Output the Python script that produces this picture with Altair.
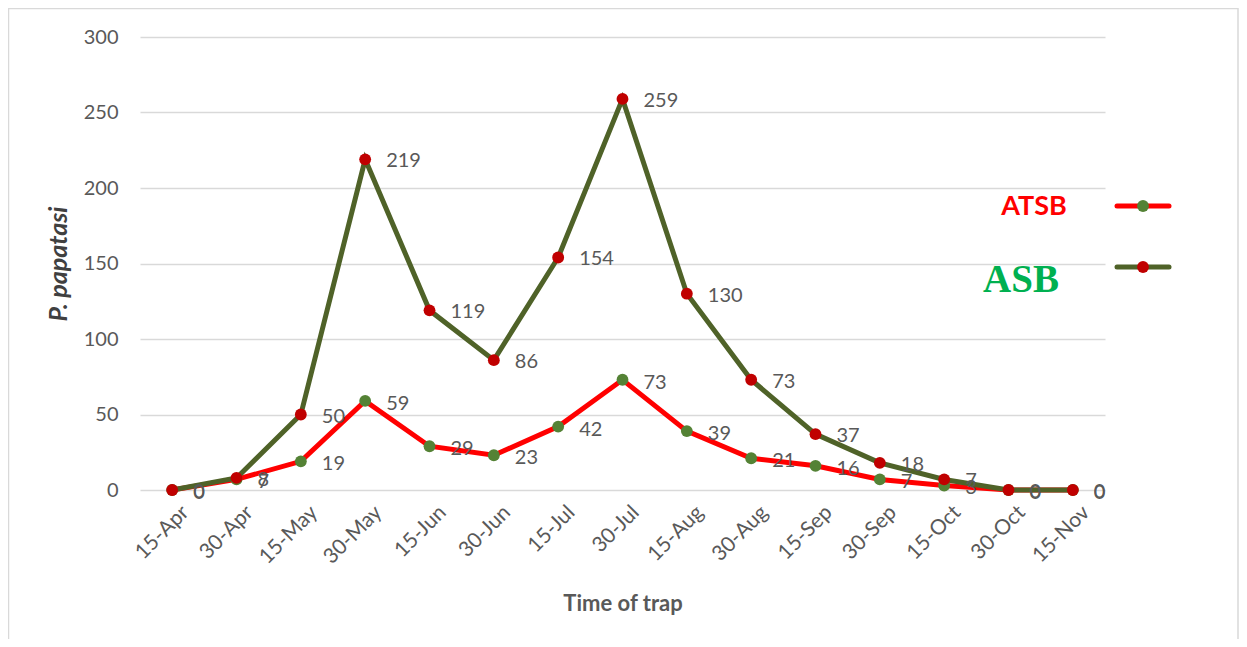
import altair as alt
import pandas as pd

dates = ["15-Apr", "30-Apr", "15-May", "30-May", "15-Jun", "30-Jun", "15-Jul",
         "30-Jul", "15-Aug", "30-Aug", "15-Sep", "30-Sep", "15-Oct", "30-Oct", "15-Nov"]
atsb = [0, 7, 19, 59, 29, 23, 42, 73, 39, 21, 16, 7, 3, 0, 0]
asb = [0, 8, 50, 219, 119, 86, 154, 259, 130, 73, 37, 18, 7, 0, 0]

FONT = "Lato"
GRAY = "#595959"
RED = "#FF0000"
OLIVE = "#4F6228"
GREEN_DOT = "#548235"
RED_DOT = "#C00000"

df_atsb = pd.DataFrame({"date": dates, "value": atsb})
df_asb = pd.DataFrame({"date": dates, "value": asb})

x_enc = alt.X("date:O", sort=dates,
              scale=alt.Scale(type="point", padding=0.5),
              axis=alt.Axis(title="Time of trap", labelAngle=-45, labelAlign="right",
                            labelBaseline="middle", labelOffset=13, labelPadding=19,
                            labelFontSize=21, labelColor=GRAY, labelFont=FONT,
                            ticks=False, domain=False, grid=False,
                            titleFont=FONT, titleFontSize=22, titleFontWeight="bold",
                            titleColor=GRAY, titlePadding=26))
y_enc = alt.Y("value:Q",
              scale=alt.Scale(domain=[0, 300], nice=False),
              axis=alt.Axis(title="P. papatasi", values=[0, 50, 100, 150, 200, 250, 300],
                            labelFontSize=20, labelColor=GRAY, labelFont=FONT,
                            labelPadding=22, ticks=False, domain=False,
                            grid=True, gridColor="#D9D9D9", gridWidth=1.3,
                            titleFont=FONT, titleFontSize=25, titleFontWeight="bold",
                            titleFontStyle="italic", titleColor="#404040", titlePadding=12))

base_a = alt.Chart(df_atsb)
base_b = alt.Chart(df_asb)

line_a = base_a.mark_line(color=RED, strokeWidth=5).encode(x=x_enc, y=y_enc)
pt_a = base_a.mark_point(filled=True, color=GREEN_DOT, size=140, opacity=1).encode(x=x_enc, y=y_enc)
line_b = base_b.mark_line(color=OLIVE, strokeWidth=5).encode(x=x_enc, y=y_enc)
pt_b = base_b.mark_point(filled=True, color=RED_DOT, size=140, opacity=1).encode(x=x_enc, y=y_enc)

lab_a = base_a.mark_text(align="left", baseline="middle", dx=21, dy=3, fontSize=20,
                         font=FONT, color=GRAY).encode(x=x_enc, y=y_enc, text="value:Q")
lab_b = base_b.mark_text(align="left", baseline="middle", dx=21, dy=2, fontSize=20,
                         font=FONT, color=GRAY).encode(x=x_enc, y=y_enc, text="value:Q")

# custom legend
leg = alt.Chart(pd.DataFrame({"k": [0]}))
leg_t1 = leg.mark_text(text="ATSB", font=FONT, fontSize=27, fontWeight="bold", color=RED,
                       align="center", baseline="middle").encode(x=alt.value(894), y=alt.value(170))
leg_t2 = leg.mark_text(text="ASB", font="Liberation Serif", fontSize=39, fontWeight="bold",
                       color="#00B050", align="center", baseline="middle").encode(
    x=alt.value(881), y=alt.value(243))
leg_l1 = leg.mark_rule(color=RED, strokeWidth=5, strokeCap="round").encode(
    x=alt.value(977), x2=alt.value(1029), y=alt.value(169))
leg_l2 = leg.mark_rule(color=OLIVE, strokeWidth=5, strokeCap="round").encode(
    x=alt.value(977), x2=alt.value(1029), y=alt.value(230))
leg_p1 = leg.mark_point(filled=True, color=GREEN_DOT, size=140, opacity=1).encode(
    x=alt.value(1003), y=alt.value(169))
leg_p2 = leg.mark_point(filled=True, color=RED_DOT, size=140, opacity=1).encode(
    x=alt.value(1003), y=alt.value(230))

frame = leg.mark_rect(fillOpacity=0, stroke="#D9D9D9", strokeWidth=1.5).encode(
    x=alt.value(-131.5), x2=alt.value(1098), y=alt.value(-28.5), y2=alt.value(640))

chart = alt.layer(
    frame, line_a, pt_a, line_b, pt_b, lab_a, lab_b,
    leg_t1, leg_t2, leg_l1, leg_l2, leg_p1, leg_p2
).properties(
    width=965, height=453,
    padding={"left": 132, "top": 29, "right": 134, "bottom": 149},
    autosize=alt.AutoSizeParams(type="none"),
    background="white"
).configure_view(stroke=None)

chart.save("out.html", embed_options={"renderer": "svg", "actions": False})
